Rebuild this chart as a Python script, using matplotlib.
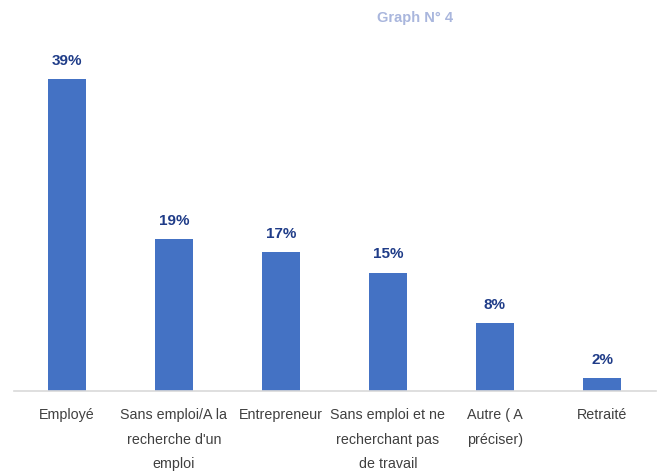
import matplotlib
matplotlib.use('Agg')
import matplotlib.pyplot as plt

categories = ["Employé", "Sans emploi/A la\nrecherche d'un\nemploi", "Entrepreneur",
              "Sans emploi et ne\nrecherchant pas\nde travail", "Autre ( A\npréciser)", "Retraité"]
values = [39.0, 19.0, 17.4, 14.8, 8.5, 1.6]

W, H = 664, 472
fig = plt.figure(figsize=(W / 100, H / 100), dpi=100)
# axes: baseline at y=391px, 8 px per percent
ax = fig.add_axes([13.5 / W, (H - 391) / H, 642 / W, 351 / H])

x = list(range(len(categories)))
bars = ax.bar(x, values, width=0.355, color='#4472C4')
ax.set_xlim(-0.5, len(categories) - 0.5)
ax.set_ylim(0, 351 / 8)

font = ['Liberation Sans', 'DejaVu Sans']
for b, v in zip(bars, values):
    ax.text(b.get_x() + b.get_width() / 2, v + 1.4, f"{v:.0f}%", ha='center', va='bottom',
            fontsize=11, fontweight='bold', color='#1F3C88', family=font)

ax.set_xticks(x)
ax.set_xticklabels(categories, fontsize=10.3, color='#404040', family=font, linespacing=1.95)
ax.tick_params(axis='x', length=0, pad=12.5)
ax.set_yticks([])
for s in ['top', 'right', 'left']:
    ax.spines[s].set_visible(False)
ax.spines['bottom'].set_color('#D9D9D9')
ax.spines['bottom'].set_linewidth(1.2)

fig.text(415 / W, 1 - 18 / H, "Graph N° 4", ha='center', va='center', fontsize=10.5,
         fontweight='bold', color='#A9B6DD', family=font)

fig.savefig('out.png', dpi=100)
